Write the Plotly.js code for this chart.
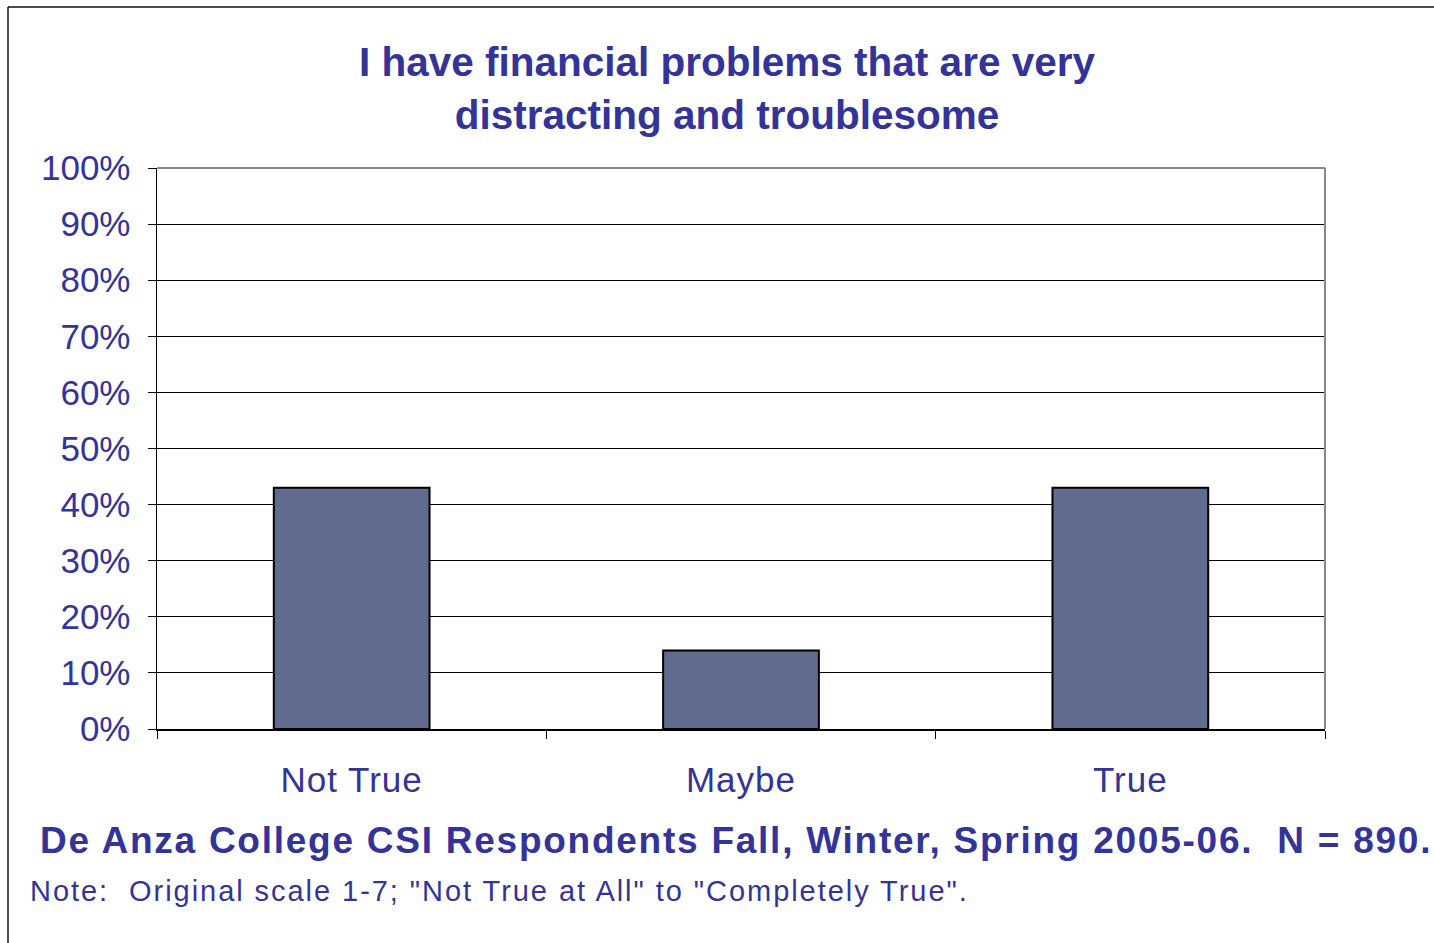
<!DOCTYPE html>
<html>
<head>
<meta charset="utf-8">
<script src="https://cdn.plot.ly/plotly-3.0.1.min.js"></script>
<style>
html,body{margin:0;padding:0;background:#fff;}
#chart{width:1434px;height:943px;}
</style>
</head>
<body>
<div id="chart"></div>
<script>
const categories = ["Not True", "Maybe", "True"];
const percentages = [0.43, 0.14, 0.43];
const titleText = "I have financial problems that are very<br>distracting and troublesome";
const footerText = "De Anza College CSI Respondents Fall, Winter, Spring 2005-06.  N = 890.";
const noteText = "Note:  Original scale 1-7; \"Not True at All\" to \"Completely True\".";

const W = 1434, H = 943;
const L = 157, R = 1325, T = 168, B = 729;
const pw = R - L, ph = B - T;
const px = x => (x - L) / pw;
const py = y => (B - y) / ph;
const blue = "#333399";
const font = "Liberation Sans, Arial, sans-serif";

const trace = {
  type: "bar",
  x: categories,
  y: percentages,
  marker: {color: "#616b8d", line: {color: "#000", width: 2}},
  hoverinfo: "skip"
};

const layout = {
  width: W, height: H,
  margin: {l: L, r: W - R, t: T, b: H - B, pad: 0},
  paper_bgcolor: "#fff",
  plot_bgcolor: "#fff",
  showlegend: false,
  bargap: 0.6,
  font: {family: font, color: blue},
  title: {
    text: titleText,
    font: {family: font, size: 40.5, color: blue, weight: "bold"},
    x: 727 / W, xanchor: "center",
    y: 1 - 76 / H, yanchor: "middle", yref: "container"
  },
  xaxis: {
    type: "category",
    showgrid: false,
    showline: true, linecolor: "#000", linewidth: 1.5,
    ticks: "outside", tickson: "boundaries", ticklen: 8, tickcolor: "#000", tickwidth: 1,
    tickfont: {family: font, size: 35, color: blue},
    ticklabelstandoff: 19,
    fixedrange: true
  },
  yaxis: {
    range: [0, 1],
    dtick: 0.1,
    tickformat: ".0%",
    showgrid: true, gridcolor: "#000", gridwidth: 1,
    zeroline: false,
    showline: true, linecolor: "#000", linewidth: 1.5,
    ticks: "outside", ticklen: 8, tickcolor: "#000", tickwidth: 1,
    tickfont: {family: font, size: 35, color: blue},
    ticklabelstandoff: 10,
    fixedrange: true
  },
  shapes: [
    {type: "line", xref: "paper", yref: "paper", x0: 0, x1: 1, y0: 1, y1: 1, line: {color: "#888", width: 2}},
    {type: "line", xref: "paper", yref: "paper", x0: 1, x1: 1, y0: 0, y1: 1, line: {color: "#888", width: 2}},
    {type: "line", xref: "paper", yref: "paper", x0: px(8), x1: px(8), y0: py(7), y1: py(945), line: {color: "#111", width: 1.5}},
    {type: "line", xref: "paper", yref: "paper", x0: px(8), x1: px(1436), y0: py(7), y1: py(7), line: {color: "#111", width: 1.5}}
  ],
  annotations: [
    {text: footerText, xref: "paper", yref: "paper", x: px(38), y: py(840), xanchor: "left", yanchor: "middle",
     showarrow: false, font: {family: font, size: 37, color: blue, weight: "bold"}},
    {text: noteText, xref: "paper", yref: "paper", x: px(28), y: py(891), xanchor: "left", yanchor: "middle",
     showarrow: false, font: {family: font, size: 29, color: blue}}
  ]
};

Plotly.newPlot("chart", [trace], layout, {displayModeBar: false, staticPlot: true}).then(gd => {
  const texts = gd.querySelectorAll(".annotation-text");
  const spacing = [1.75, 1.95];
  texts.forEach((t, i) => {
    const bb = t.getBBox();
    t.setAttribute("text-anchor", "start");
    t.setAttribute("x", bb.x);
    t.style.letterSpacing = (spacing[i] || 0) + "px";
  });
  gd.querySelectorAll(".xtick text").forEach(t => { t.style.letterSpacing = "1px"; });
});
</script>
</body>
</html>
